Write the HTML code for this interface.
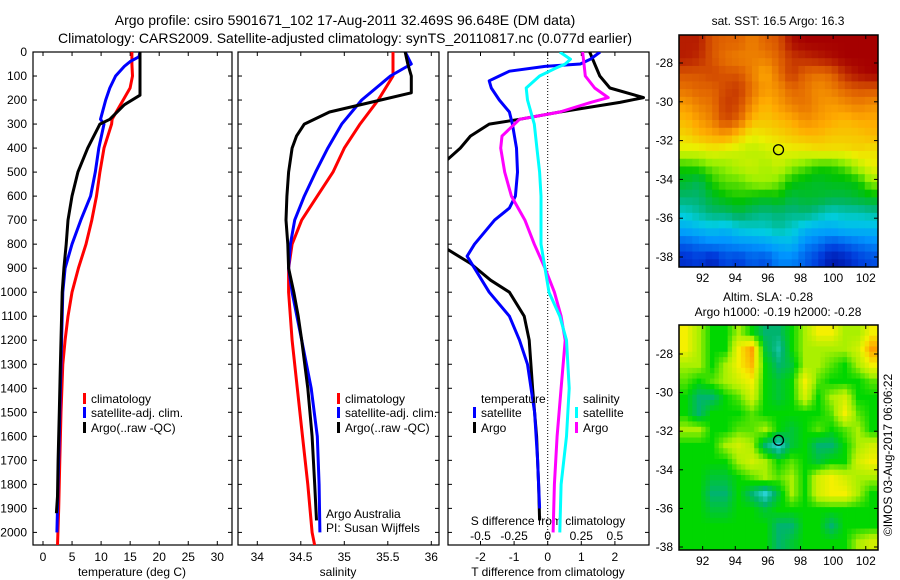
<!DOCTYPE html>
<html><head><meta charset="utf-8">
<style>
html,body{margin:0;padding:0;background:#fff;}
svg{display:block;font-family:"Liberation Sans",sans-serif;}
text{fill:#000;}
</style></head>
<body>
<svg id="fig" width="900" height="580" viewBox="0 0 900 580">
<defs>
<clipPath id="c1"><rect x="33" y="52" width="199" height="493"/></clipPath>
<clipPath id="c2"><rect x="238" y="52" width="201" height="493"/></clipPath>
<clipPath id="c3"><rect x="448" y="52" width="201" height="493"/></clipPath>
</defs>
<text x="345" y="25" text-anchor="middle" font-size="14">Argo profile: csiro 5901671_102 17-Aug-2011 32.469S 96.648E (DM data)</text>
<text x="345" y="43" text-anchor="middle" font-size="14">Climatology: CARS2009. Satellite-adjusted climatology: synTS_20110817.nc (0.077d earlier)</text>
<text x="778" y="25" text-anchor="middle" font-size="12">sat. SST: 16.5  Argo: 16.3</text>
<text x="768" y="301" text-anchor="middle" font-size="12">Altim. SLA: -0.28</text>
<text x="778" y="316" text-anchor="middle" font-size="12">Argo h1000: -0.19 h2000: -0.28</text>
<text transform="translate(892,455) rotate(-90)" text-anchor="middle" font-size="12">©IMOS 03-Aug-2017 06:06:22</text>
<g id="g"></g>
</svg>
<script>
// ---- data ----
const depthTicks = [0,100,200,300,400,500,600,700,800,900,1000,1100,1200,1300,1400,1500,1600,1700,1800,1900,2000];
const tempTicks = [0,5,10,15,20,25,30];
const salTicks = [34,34.5,35,35.5,36];
const tdiffTicks = [-2,-1,0,1,2];
const sdiffTicks = [-0.5,-0.25,0,0.25,0.5];
const sdiffTickLabels = ["-0.5","-0.25","0","0.25","0.5"];

const tClimDepth = [0,50,100,150,200,280,300,400,500,600,700,800,900,1000,1100,1200,1300,1500,1700,1900,2054];
const tClim      = [15.3,15.3,15.4,15.0,13.8,11.9,11.8,10.5,9.8,9.2,8.4,7.4,6.1,5.0,4.3,3.8,3.4,3.1,2.9,2.7,2.5];
const tSatDepth  = [0,20,40,60,100,150,200,280,300,400,500,600,700,800,900,1000,1200,1500,1800,2000];
const tSat       = [16.7,16.5,15.0,14.0,12.5,11.5,10.8,9.9,10.5,9.6,9.0,8.2,6.5,5.0,3.8,3.4,3.2,2.9,2.6,2.4];
const tArgoDepth = [0,180,220,280,300,400,500,600,700,800,900,1000,1100,1300,1500,1700,1850,1920];
const tArgo      = [16.7,16.7,14.0,11.5,9.8,7.7,6.0,5.0,4.3,4.0,3.6,3.3,3.2,3.0,2.8,2.6,2.5,2.3];

const sClimDepth = [0,100,200,300,400,500,600,700,800,900,1000,1200,1400,1600,1800,2000,2054];
const sClim      = [35.56,35.56,35.39,35.18,35.0,34.87,34.69,34.51,34.4,34.36,34.36,34.4,34.46,34.52,34.58,34.63,34.66];
const sSatDepth  = [0,50,100,200,300,400,500,600,700,800,900,1000,1200,1400,1600,1800,2000];
const sSat       = [35.7,35.77,35.53,35.2,34.97,34.81,34.67,34.54,34.43,34.38,34.36,34.4,34.51,34.62,34.69,34.71,34.72];
const sArgoDepth = [0,50,100,170,200,250,300,350,400,500,600,700,800,900,1000,1100,1200,1400,1600,1800,1950];
const sArgo      = [35.7,35.73,35.77,35.77,35.42,34.83,34.54,34.45,34.4,34.36,34.34,34.33,34.35,34.36,34.42,34.47,34.51,34.58,34.63,34.66,34.68];

const dTArgoDepth = [0,50,100,150,190,210,250,280,300,350,400,450,500,820,880,950,1000,1100,1200,1400,1600,1800,1950];
const dTArgo      = [1.25,1.4,1.55,1.85,2.85,2.15,0.36,-0.84,-1.74,-2.3,-2.6,-3.0,-3.5,-3.0,-2.3,-1.7,-1.14,-0.7,-0.55,-0.45,-0.33,-0.27,-0.24];
const dTSatDepth  = [0,30,50,60,80,100,120,150,200,250,300,400,500,600,650,700,800,850,900,1000,1100,1200,1300,1500,1700,1900];
const dTSat       = [1.56,1.27,0.97,-0.08,-1.14,-1.44,-1.74,-1.68,-1.44,-1.14,-1.05,-0.93,-0.9,-0.96,-1.14,-1.58,-2.18,-2.4,-2.18,-1.74,-1.14,-0.84,-0.6,-0.39,-0.3,-0.24];
const dSArgoDepth = [0,50,100,150,190,210,250,280,350,400,500,600,700,800,900,1000,1100,1200,1400,1600,1800,2000];
const dSArgo      = [0.26,0.27,0.28,0.35,0.45,0.32,0.09,-0.21,-0.34,-0.35,-0.32,-0.27,-0.17,-0.1,-0.02,0.05,0.1,0.13,0.1,0.07,0.05,0.04];
const dSSatDepth  = [0,30,50,70,100,150,200,300,400,500,600,700,800,900,1000,1100,1200,1400,1600,1800,2000];
const dSSat       = [0.09,0.17,0.13,0.05,-0.06,-0.16,-0.15,-0.1,-0.08,-0.06,-0.05,-0.05,-0.05,-0.02,0.01,0.09,0.14,0.16,0.14,0.1,0.09];

const lonTicks = [92,94,96,98,100,102];
const latTicks = [-28,-30,-32,-34,-36,-38];
const argoLon = 96.65, argoLat = -32.47;
const sstGrid = [
[18,18,17.6,17.5,17.5,17.3,17.5,17.6,18.1,18.2,18.2,18.2,18.2,18.2,18.2],
[18,17.9,17.6,17.4,17.3,17.3,17.3,17.5,17.8,17.9,18,18.1,18.2,18.2,18.2],
[17.6,17.6,17.7,17.6,17.6,17.3,17.0,17.4,17.8,17.5,17.4,17.5,17.9,18.1,18.2],
[17.4,17.5,17.5,17.7,17.8,17.4,17.1,17.2,17.5,17.4,17.2,17.3,17.5,17.6,17.6],
[17.1,17.3,17.4,17.8,17.7,17.2,16.9,17.1,17.3,17.4,17.2,17.1,17.2,17.3,17.2],
[16.9,17.1,17.3,17.7,17.5,16.9,16.8,16.9,17.0,17.2,17.1,17.0,16.9,17.0,17.0],
[16.7,16.9,17.0,17.1,16.8,16.5,16.6,16.7,16.8,16.9,16.9,16.8,16.8,16.8,16.9],
[16.4,16.4,16.5,16.4,16.3,16.2,16.3,16.4,16.5,16.5,16.6,16.6,16.6,16.7,16.6],
[15.6,15.7,15.9,16.0,16.2,16.3,16.1,16.3,16.0,15.8,15.6,15.6,15.8,16.2,16.5],
[15.3,15.1,15.6,15.8,15.8,16.0,16.1,15.9,15.5,15.4,15.3,15.4,15.4,15.5,16.0],
[15.0,15.0,15.3,15.5,15.6,15.5,15.4,15.5,15.2,15.3,15.3,15.2,15.2,15.3,15.4],
[14.6,14.8,15.0,15.0,15.2,15.0,14.9,15.0,14.9,15.0,14.8,14.6,14.7,14.7,14.8],
[14.2,14.3,14.4,14.3,14.5,14.6,14.6,14.8,14.6,14.3,14.2,14.2,14.3,14.3,14.3],
[13.7,13.8,13.9,13.9,14.0,14.0,14.1,14.2,14.3,13.9,13.8,13.6,13.7,13.8,13.9],
[13.4,13.5,13.3,13.6,13.5,13.7,13.6,13.9,13.9,13.7,13.5,13.2,13.3,13.5,13.6]];
const slaGrid = [
[2,1,0,0,1,0,-1,-1,0,1,2,2,1,1,2],
[2,1,0,0,2,3,-0.5,-1.5,0,1,1,1,1,1.5,3],
[1,1,0,1,2,2.7,0,-1,-0.5,1,1,0.5,0,1,2],
[0.5,0,0.5,1,1.5,2,0,-0.5,0,2,0.5,0,0,0,0.5],
[0,-1,-1,0,0.5,1.5,0,-0.5,0,1.5,0,1,1.5,0,0],
[0,-1,0,0,0,0.5,0,0,0,0,0,0.5,2,0.5,0],
[1,1,0,0,0.5,0.5,1,0,-0.5,0,0.5,0,0.5,1,0],
[0,0,0,1,1.5,1,-1,-2,-0.5,0,-1,-1,0,1,1.5],
[0,0,0,0,1,1.5,1,0,0.5,0,-0.5,0,0,1.5,2],
[0,0,-0.5,-0.5,0,0.5,1,0.5,1,0,1.5,2,1.5,1,1],
[0,0,-1,-1,0,-1,-2,-0.5,1,0,1.5,2,2,1,0],
[0,0,-0.5,-0.5,0,0,-0.5,0,0,0,0,0,0,0,0],
[0,0,0,0,0,0,0,-1,-1,0,0,-1,0,0,0],
[0,0,0,0,0,0,0,-1,-0.5,0,0,0,0,1,1.5]];

// ---- helpers ----
const NS="http://www.w3.org/2000/svg";
const G=document.getElementById('g');
function mk(tag,attrs,parent){const e=document.createElementNS(NS,tag);for(const k in attrs)e.setAttribute(k,attrs[k]);(parent||G).appendChild(e);return e;}
function txt(x,y,s,anchor,size,parent){const t=mk('text',{x:x,y:y,'text-anchor':anchor||'middle','font-size':size||12},parent);t.textContent=s;return t;}
const yD = d => 52 + d*0.2402;
const xT = t => 43 + (t)*5.81;
const xS = s => 257.3 + (s-34)*87;
const xdT = t => 547.7 + t*33.6;
const xdS = s => 547.7 + s*134.4;

function frame(x0,x1,name){
  const r=mk('rect',{x:x0,y:52,width:x1-x0,height:493,fill:'none',stroke:'#000','stroke-width':1.2});
  
  
  depthTicks.forEach(d=>{mk('line',{x1:x0,x2:x0+4,y1:yD(d),y2:yD(d),stroke:'#000'});mk('line',{x1:x1,x2:x1-4,y1:yD(d),y2:yD(d),stroke:'#000'});});
}
function line(depths,vals,xf,color,clip,name){
  const pts=depths.map((d,i)=>xf(vals[i]).toFixed(1)+','+yD(d).toFixed(1)).join(' ');
  const p=mk('polyline',{points:pts,fill:'none',stroke:color,'stroke-width':3,'stroke-linejoin':'round','clip-path':'url(#'+clip+')'});
  
  
}
function xticks(ticks,xf,labels,y0,name){
  ticks.forEach((t,i)=>{
    const x=xf(t);
    mk('line',{x1:x,x2:x,y1:545,y2:541,stroke:'#000'});
    mk('line',{x1:x,x2:x,y1:52,y2:56,stroke:'#000'});
    const l=txt(x,y0,labels?labels[i]:String(t));
    
    
  });
}
function legendEntry(x,y,color,label){
  const r=mk('rect',{x:x,y:y-10,width:3,height:11,fill:color});
  
  
  const t=txt(x+8,y,label,'start',12);
  
  
}

// ---- panel 1: temperature ----
frame(33,232,'temperature-axes');
depthTicks.forEach(d=>{const l=txt(27,yD(d)+4,String(d),'end',12);
  
  });
xticks(tempTicks,xT,null,561,'temperature-tick-label');
let lab=txt(132,576,'temperature (deg C)');


line(tClimDepth,tClim,xT,'#ff0000','c1','temp-climatology-line');
line(tSatDepth,tSat,xT,'#0000ff','c1','temp-satellite-line');
line(tArgoDepth,tArgo,xT,'#000000','c1','temp-argo-line');
legendEntry(83,403,'#ff0000','climatology');
legendEntry(83,417,'#0000ff','satellite-adj. clim.');
legendEntry(83,432,'#000000','Argo(..raw -QC)');

// ---- panel 2: salinity ----
frame(238,439,'salinity-axes');
xticks(salTicks,xS,null,561,'salinity-tick-label');
lab=txt(338,576,'salinity');


line(sClimDepth,sClim,xS,'#ff0000','c2','sal-climatology-line');
line(sSatDepth,sSat,xS,'#0000ff','c2','sal-satellite-line');
line(sArgoDepth,sArgo,xS,'#000000','c2','sal-argo-line');
legendEntry(337,403,'#ff0000','climatology');
legendEntry(337,417,'#0000ff','satellite-adj. clim.');
legendEntry(337,432,'#000000','Argo(..raw -QC)');
lab=txt(326,518,'Argo Australia','start',12);


lab=txt(326,532,'PI: Susan Wijffels','start',12);



// ---- panel 3: differences ----
frame(448,649,'difference-axes');
mk('line',{x1:xdT(0),x2:xdT(0),y1:52,y2:545,stroke:'#000','stroke-dasharray':'1,2'});
xticks(tdiffTicks,xdT,null,561,'tdiff-tick-label');
sdiffTicks.forEach((s,i)=>{const l=txt(xdS(s),540,sdiffTickLabels[i]);
  
  });
lab=txt(548,525,'S difference from climatology');


lab=txt(548,576,'T difference from climatology');


line(dTArgoDepth,dTArgo,xdT,'#000000','c3','tdiff-argo-line');
line(dTSatDepth,dTSat,xdT,'#0000ff','c3','tdiff-satellite-line');
line(dSArgoDepth,dSArgo,xdS,'#ff00ff','c3','sdiff-argo-line');
line(dSSatDepth,dSSat,xdS,'#00ffff','c3','sdiff-satellite-line');
lab=txt(481,403,'temperature','start',12);


lab=txt(583,403,'salinity','start',12);


legendEntry(473,417,'#0000ff','satellite');
legendEntry(473,432,'#000000','Argo');
legendEntry(575,417,'#00ffff','satellite');
legendEntry(575,432,'#ff00ff','Argo');

// ---- maps ----
function interp(stops,v){
  if(v<=stops[0][0])return stops[0][1];
  for(let i=1;i<stops.length;i++){if(v<=stops[i][0]){const a=stops[i-1],b=stops[i],f=(v-a[0])/(b[0]-a[0]);
    return [0,1,2].map(k=>Math.round(a[1][k]+(b[1][k]-a[1][k])*f));}}
  return stops[stops.length-1][1];
}
const sstStops=[[13.0,[0,0,140]],[13.5,[0,60,220]],[14.0,[0,150,255]],[14.5,[0,205,225]],[15.0,[0,180,110]],[15.5,[0,195,0]],[16.0,[150,240,0]],[16.5,[235,240,0]],[17.0,[255,170,0]],[17.5,[225,100,0]],[18.2,[165,0,0]]];
const slaStops=[[-2,[40,210,210]],[-1,[0,180,110]],[0,[0,215,0]],[1,[170,240,0]],[2,[245,240,0]],[3,[255,160,0]]];

// bilinear sample of grid at fractional (row, col) measured in cell-centre units
function sample(grid,fr,fc){
  const nr=grid.length,nc=grid[0].length;
  fr=Math.max(0,Math.min(nr-1,fr));fc=Math.max(0,Math.min(nc-1,fc));
  const r0=Math.floor(fr),c0=Math.floor(fc),r1=Math.min(nr-1,r0+1),c1=Math.min(nc-1,c0+1);
  const a=fr-r0,b=fc-c0;
  return grid[r0][c0]*(1-a)*(1-b)+grid[r0][c1]*(1-a)*b+grid[r1][c0]*a*(1-b)+grid[r1][c1]*a*b;
}
function map(grid,stops,sub,x0,x1,y0,y1,lon0,lon1,lat0,lat1,latTickY,name){
  const xL=l=>x0+(l-lon0)/(lon1-lon0)*(x1-x0);
  const yL=l=>y0+(lat0-l)/(lat0-lat1)*(y1-y0);
  const g=mk('g',{});
  
  
  const nr=grid.length*sub,nc=grid[0].length*sub;
  const dlon=(lon1-lon0)/nc,dlat=(lat0-lat1)/nr;
  for(let r=0;r<nr;r++)for(let c=0;c<nc;c++){
    const v=sample(grid,(r+0.5)/sub-0.5,(c+0.5)/sub-0.5);
    const xa=xL(lon0+c*dlon),xb=xL(lon0+(c+1)*dlon),ya=yL(lat0-r*dlat),yb=yL(lat0-(r+1)*dlat);
    const col=interp(stops,v);
    const cell=mk('rect',{x:xa.toFixed(2),y:ya.toFixed(2),width:(xb-xa+0.4).toFixed(2),height:(yb-ya+0.4).toFixed(2),fill:'rgb('+col.join(',')+')'},g);
    
    
  }
  mk('rect',{x:x0,y:y0,width:x1-x0,height:y1-y0,fill:'none',stroke:'#000','stroke-width':1.5});
  lonTicks.forEach(l=>{const x=xL(l);mk('line',{x1:x,x2:x,y1:y0,y2:y0+4,stroke:'#000'});mk('line',{x1:x,x2:x,y1:y1,y2:y1-4,stroke:'#000'});
    const t=txt(x,y1+15,String(l));
    
    });
  latTicks.forEach(l=>{const y=latTickY(l);mk('line',{x1:x0,x2:x0+4,y1:y,y2:y,stroke:'#000'});mk('line',{x1:x1,x2:x1-4,y1:y,y2:y,stroke:'#000'});
    const t=txt(x0-6,y+4,String(l),'end');
    
    });
  const m=mk('ellipse',{cx:xL(argoLon),cy:latTickY(argoLat),rx:5,ry:5,fill:'none',stroke:'#000','stroke-width':1.3});
  
  
}
map(sstGrid,sstStops,2,679,878,35,267,90.55,102.75,-26.56,-38.5,l=>63+(-28-l)*19.4,'sst-map');
map(slaGrid,slaStops,3,679,878,325,550,90.55,102.75,-26.5,-38.15,l=>354+(-28-l)*19.3,'sla-map');
</script>
</body></html>
